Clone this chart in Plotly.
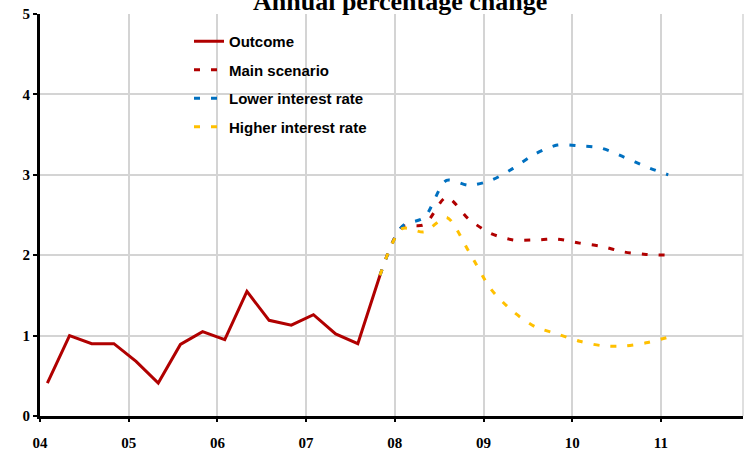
import plotly.graph_objects as go

# ---- data ----
outcome_x = [2004.083 + 0.25 * i for i in range(16)]
outcome_y = [0.41, 1.00, 0.90, 0.90, 0.68, 0.41, 0.89, 1.05, 0.95, 1.55, 1.19, 1.13, 1.26, 1.02, 0.90, 1.75]

forecast_x = [2007.833 + 0.25 * i for i in range(14)]
main_scenario = [1.75, 2.35, 2.38, 2.72, 2.45, 2.27, 2.19, 2.19, 2.20, 2.15, 2.11, 2.04, 2.01, 2.00]
lower_rate = [1.75, 2.36, 2.47, 2.93, 2.87, 2.93, 3.08, 3.26, 3.37, 3.36, 3.33, 3.22, 3.10, 3.00]
higher_rate = [1.75, 2.33, 2.29, 2.47, 2.05, 1.58, 1.30, 1.11, 1.02, 0.93, 0.875, 0.87, 0.91, 0.98]

year_ticks = [2004, 2005, 2006, 2007, 2008, 2009, 2010, 2011]
year_labels = ["04", "05", "06", "07", "08", "09", "10", "11"]
y_ticks = [0, 1, 2, 3, 4, 5]

RED = "#b00000"
BLUE = "#0070c0"
YELLOW = "#ffc000"
DASH = "6px,11px"

fig = go.Figure()
fig.add_trace(go.Scatter(x=outcome_x, y=outcome_y, mode="lines", name="Outcome",
                         legendgroup="a", line=dict(color=RED, width=3)))
fig.add_trace(go.Scatter(x=forecast_x, y=main_scenario, mode="lines", name="Main scenario",
                         legendgroup="b", line=dict(color=RED, width=3, dash=DASH, shape="spline", smoothing=0.8)))
fig.add_trace(go.Scatter(x=forecast_x, y=lower_rate, mode="lines", name="Lower interest rate",
                         legendgroup="c", line=dict(color=BLUE, width=3, dash=DASH, shape="spline", smoothing=0.8)))
fig.add_trace(go.Scatter(x=forecast_x, y=higher_rate, mode="lines", name="Higher interest rate",
                         legendgroup="d", line=dict(color=YELLOW, width=3, dash=DASH, shape="spline", smoothing=0.8)))

W, H = 744, 453
L, R, T, B = 40, 1, 14, 37
pw, ph = W - L - R, H - T - B
px_per_year = 88.7
x0 = 2004
x1 = x0 + pw / px_per_year

def px_x(p):
    return (p - L) / pw

def px_y(p):
    return 1 - (p - T) / ph

serif = "Liberation Serif, Times New Roman, serif"
sans = "Liberation Sans, Arial, sans-serif"

fig.update_layout(
    width=W, height=H,
    margin=dict(l=L, r=R, t=T, b=B),
    plot_bgcolor="white", paper_bgcolor="white",
    showlegend=True,
    legend=dict(x=px_x(189), y=px_y(25), xanchor="left", yanchor="top",
                bgcolor="rgba(0,0,0,0)",
                font=dict(family=sans, size=15, color="black", weight="bold"),
                tracegroupgap=6, traceorder="grouped"),
    xaxis=dict(range=[x0, x1], tickvals=year_ticks, ticktext=year_labels,
               showgrid=True, gridcolor="#d4d4d4", gridwidth=1.5,
               showline=True, linecolor="black", linewidth=3,
               ticks="outside", ticklen=3, tickwidth=2, tickcolor="black",
               tickfont=dict(family=serif, size=15, color="black", weight="bold"),
               ticklabelstandoff=8, zeroline=False),
    yaxis=dict(range=[0, 5], tickvals=y_ticks,
               showgrid=True, gridcolor="#d4d4d4", gridwidth=1.5,
               showline=True, linecolor="black", linewidth=3,
               ticks="outside", ticklen=4, tickwidth=2, tickcolor="black",
               tickfont=dict(family=serif, size=15, color="black", weight="bold"),
               ticklabelstandoff=0, zeroline=False),
    shapes=[
        dict(type="rect", xref="paper", yref="paper", x0=px_x(150), x1=px_x(412),
             y0=px_y(142), y1=px_y(25), fillcolor="white", line=dict(width=0), layer="between"),
        dict(type="line", xref="paper", yref="paper", x0=1, x1=1, y0=0, y1=1,
             line=dict(color="#d4d4d4", width=1.5), layer="below"),
    ],
    annotations=[
        dict(text="<b>Annual percentage change</b>", xref="paper", yref="paper",
             x=px_x(400), y=px_y(1), xanchor="center", yanchor="middle",
             showarrow=False, font=dict(family=serif, size=26, color="black")),
    ],
)

fig.write_html("out.html", config={"displayModeBar": False},
               post_script="document.body.style.margin='0';document.body.style.overflow='hidden';")
